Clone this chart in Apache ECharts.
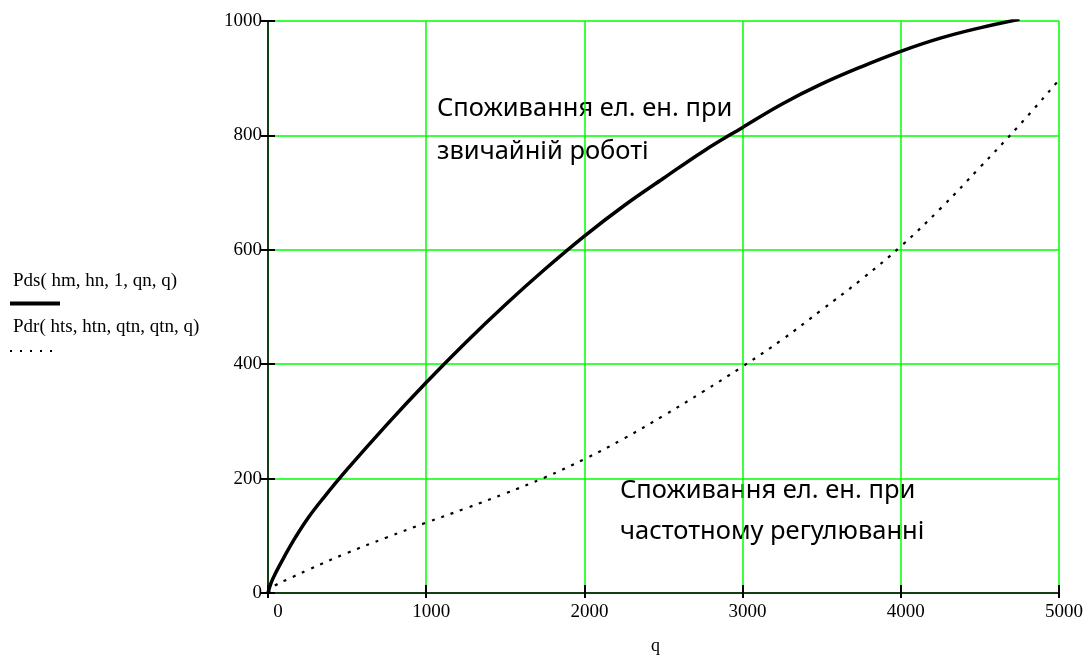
<!DOCTYPE html>
<html>
<head>
<meta charset="utf-8">
<script src="https://cdn.jsdelivr.net/npm/echarts@6/dist/echarts.min.js"></script>
<style>
  html, body { margin: 0; padding: 0; background: #fff; }
  #main { width: 1091px; height: 660px; }
</style>
</head>
<body>
<div id="main"></div>
<script>
// q values and power for the ordinary mode (solid line)
const qDs = [0, 20, 50, 100, 175, 250, 350, 500, 750, 1000, 1250, 1500, 1750, 2000, 2250, 2500, 2750, 3000, 3250, 3500, 3750, 4000, 4250, 4500, 4750];
const pDs = [0, 18, 36, 62, 98, 130, 166, 216, 294, 368, 438, 504, 566, 624, 677, 725, 772, 814, 855, 890, 920, 947, 970, 988, 1003];

// q values and power for frequency regulation (dotted line)
const qDr = [0, 50, 125, 250, 500, 750, 1000, 1250, 1500, 1750, 2000, 2250, 2500, 2750, 3000, 3250, 3500, 3750, 4000, 4250, 4500, 4750, 5000];
const pDr = [0, 14, 24, 40, 70, 97, 123, 148, 174, 202, 234, 270, 310, 352, 396, 443, 495, 548, 606, 672, 744, 818, 897];

const xTicks = [0, 1000, 2000, 3000, 4000, 5000];
const yTicks = [0, 200, 400, 600, 800, 1000];

const legendNames = ['Pds( hm, hn, 1, qn, q)', 'Pdr( hts, htn, qtn, qtn, q)'];
const noteOrdinary = ['Споживання ел. ен. при', 'звичайній роботі'];
const noteFreq = ['Споживання ел. ен. при', 'частотному регулюванні'];

const chart = echarts.init(document.getElementById('main'));

const serif = 'Liberation Serif';
const green = '#00ff00';

function pairs(xs, ys) {
    return xs.map((x, i) => [x, ys[i]]);
}

const xBase = {
    type: 'value',
    min: xTicks[0],
    max: xTicks[xTicks.length - 1],
    interval: xTicks[1] - xTicks[0],
    position: 'bottom'
};
const yBase = {
    type: 'value',
    min: yTicks[0],
    max: yTicks[yTicks.length - 1],
    interval: yTicks[1] - yTicks[0],
    position: 'left'
};

option = {
    animation: false,
    backgroundColor: '#fff',
    grid: { left: 268, right: 32, top: 21, bottom: 63 },
    xAxis: [
        Object.assign({}, xBase, {
            name: 'q',
            nameLocation: 'middle',
            nameGap: 44,
            nameTextStyle: { fontFamily: serif, fontSize: 18, color: '#000', padding: [0, 16, 0, 0] },
            axisLine: { onZero: false, lineStyle: { color: '#000', width: 1.5 } },
            axisTick: { length: 5, lineStyle: { color: '#000', width: 2 } },
            axisLabel: {
                fontFamily: serif, fontSize: 19, color: '#000', margin: 10, padding: [0, 0, 0, 10],
                formatter: (v) => v === 0 ? '{z|0}' : String(v),
                rich: { z: { fontFamily: serif, fontSize: 19, color: '#000', padding: [0, 0, 0, 10] } }
            },
            splitLine: { show: true, lineStyle: { color: green, width: 1.5 } }
        }),
        Object.assign({}, xBase, {
            axisLine: { show: false },
            axisTick: { inside: true, length: 8, lineStyle: { color: '#000', width: 2 } },
            axisLabel: { show: false },
            splitLine: { show: false }
        })
    ],
    yAxis: [
        Object.assign({}, yBase, {
            axisLine: { show: true, onZero: false, lineStyle: { color: '#000', width: 1.5 } },
            axisTick: { show: true, length: 7, lineStyle: { color: '#000', width: 2 } },
            axisLabel: { fontFamily: serif, fontSize: 19, color: '#000', margin: 6, formatter: (v) => String(v) },
            splitLine: { show: true, lineStyle: { color: green, width: 1.5 } }
        }),
        Object.assign({}, yBase, {
            axisLine: { show: false },
            axisTick: { show: true, inside: true, length: 7, lineStyle: { color: '#000', width: 2 } },
            axisLabel: { show: false },
            splitLine: { show: false }
        })
    ],
    series: [
        {
            name: legendNames[0],
            type: 'line',
            data: pairs(qDs, pDs),
            smooth: 0.4,
            showSymbol: false,
            clip: true,
            lineStyle: { color: '#000', width: 3.5 }
        },
        {
            name: legendNames[1],
            type: 'line',
            data: pairs(qDr, pDr),
            smooth: 0.4,
            showSymbol: false,
            clip: true,
            lineStyle: { color: '#000', width: 2.2, type: [3, 7], cap: 'butt' }
        }
    ],
    graphic: [
        { type: 'text', style: { x: 13, y: 281, verticalAlign: 'middle', text: legendNames[0], font: '19px "Liberation Serif"', fill: '#000' } },
        { type: 'line', shape: { x1: 10, y1: 303.5, x2: 60, y2: 303.5 }, style: { stroke: '#000', lineWidth: 4 } },
        { type: 'text', style: { x: 13, y: 327, verticalAlign: 'middle', text: legendNames[1], font: '19px "Liberation Serif"', fill: '#000' } },
        { type: 'line', shape: { x1: 10, y1: 351, x2: 60, y2: 351 }, style: { stroke: '#000', lineWidth: 2, lineDash: [2, 8] } },
        { type: 'text', style: { x: 437, y: 87, text: noteOrdinary.join('\n'), font: '25.5px "Noto Sans"', lineHeight: 43, fill: '#000' } },
        { type: 'text', style: { x: 620, y: 470, text: noteFreq.join('\n'), font: '25.5px "Noto Sans"', lineHeight: 41, fill: '#000' } }
    ]
};

chart.setOption(option);
</script>
</body>
</html>
